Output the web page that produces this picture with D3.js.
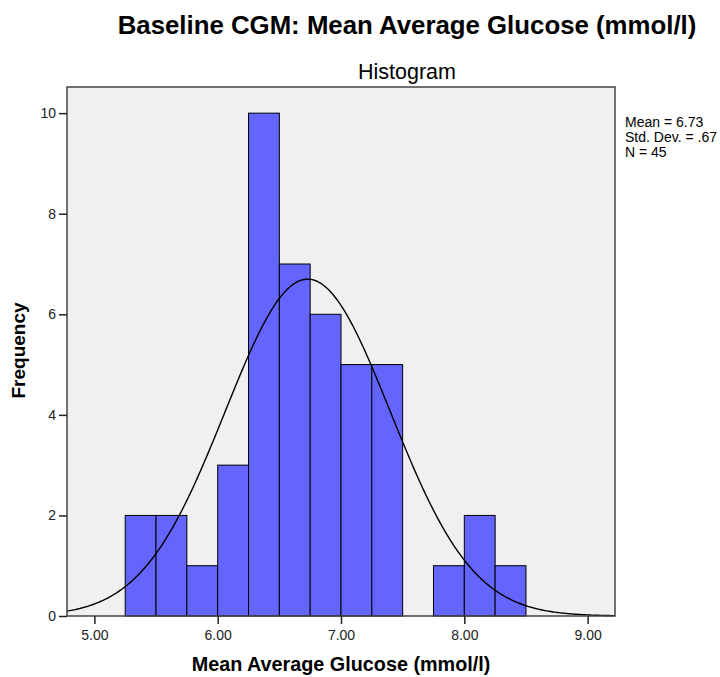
<!DOCTYPE html>
<html><head><meta charset="utf-8">
<script src="https://cdn.jsdelivr.net/npm/d3@7"></script>
<style>body{margin:0;background:#fff}</style>
</head><body>
<svg id="c" width="720" height="677"></svg>
<script>
const binStarts = [5.25,5.5,5.75,6.0,6.25,6.5,6.75,7.0,7.25,7.5,7.75,8.0,8.25];
const binWidth = 0.25;
const counts = [2,2,1,3,10,7,6,5,5,0,1,2,1];
const xTicks = [5,6,7,8,9];
const yTicks = [0,2,4,6,8,10];
const stats = {mean:6.73, sd:0.67, n:45};
const statLines = ["Mean = 6.73","Std. Dev. = .67","N = 45"];

const svg = d3.select("#c");
const L=67,R=615,T=87,B=616;
const x = d3.scaleLinear().domain([4.778,9.222]).range([L,R]);
const y = d3.scaleLinear().domain([0,10.52]).range([B,T]);
const FF = "Liberation Sans, Arial, sans-serif";

svg.append("rect").attr("x",L).attr("y",T).attr("width",R-L).attr("height",B-T).attr("fill","#f0f0f0");

const bars = binStarts.map((s,i)=>({s,c:counts[i]})).filter(d=>d.c>0);
svg.selectAll("rect.bar").data(bars).enter().append("rect").attr("class","bar")
  .attr("x",d=>x(d.s)).attr("width",d=>x(d.s+binWidth)-x(d.s))
  .attr("y",d=>y(d.c)).attr("height",d=>y(0)-y(d.c))
  .attr("fill","#6464ff").attr("stroke","#000").attr("stroke-width",1);

// normal curve from stated mean/sd
const scale = stats.n*binWidth;
const pts = d3.range(0,401).map(i=>{const v=4.778+(9.222-4.778)*i/400;
  return [v, scale/(stats.sd*Math.sqrt(2*Math.PI))*Math.exp(-0.5*((v-stats.mean)/stats.sd)**2)];});
svg.append("path").datum(pts).attr("fill","none").attr("stroke","#000").attr("stroke-width",1.4)
  .attr("d",d3.line().x(d=>x(d[0])).y(d=>y(d[1])));

svg.append("rect").attr("x",L).attr("y",T).attr("width",R-L).attr("height",B-T)
  .attr("fill","none").attr("stroke","#444").attr("stroke-width",1.5);

const xa = svg.append("g").attr("transform",`translate(0,${B})`)
  .call(d3.axisBottom(x).tickValues(xTicks).tickFormat(d3.format(".2f")).tickSize(8).tickSizeOuter(0));
xa.select(".domain").remove();
xa.selectAll("line").attr("stroke","#222").attr("stroke-width",1.5);
xa.selectAll("text").attr("font-family",FF).attr("font-size",14).attr("fill","#222").attr("y",24).attr("dy",0);

const ya = svg.append("g").attr("transform",`translate(${L},0)`)
  .call(d3.axisLeft(y).tickValues(yTicks).tickSize(8).tickSizeOuter(0));
ya.select(".domain").remove();
ya.selectAll("line").attr("stroke","#222").attr("stroke-width",1.5);
ya.selectAll("text").attr("font-family",FF).attr("font-size",14).attr("fill","#222").attr("x",-11);

svg.append("text").attr("x",407).attr("y",34).attr("text-anchor","middle")
  .attr("font-family",FF).attr("font-weight","bold").attr("font-size",25.8).text("Baseline CGM: Mean Average Glucose (mmol/l)");
svg.append("text").attr("x",407).attr("y",79).attr("text-anchor","middle")
  .attr("font-family",FF).attr("font-size",21.5).text("Histogram");
svg.append("text").attr("x",(L+R)/2).attr("y",671).attr("text-anchor","middle")
  .attr("font-family",FF).attr("font-weight","bold").attr("font-size",19.8).text("Mean Average Glucose (mmol/l)");
svg.append("text").attr("transform",`translate(25,350.5) rotate(-90)`).attr("text-anchor","middle")
  .attr("font-family",FF).attr("font-weight","bold").attr("font-size",19).text("Frequency");
svg.selectAll("text.st").data(statLines).enter().append("text").attr("class","st")
  .attr("x",625).attr("y",(d,i)=>127+i*15).attr("font-family",FF).attr("font-size",14).text(d=>d);
</script>
</body></html>
